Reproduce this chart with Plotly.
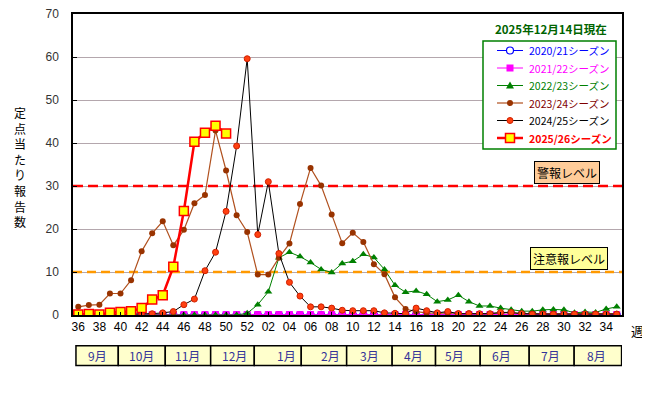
import plotly.graph_objects as go

# ---------------- data ----------------
weeks = [str(w) for w in range(36, 53)] + ["%02d" % w for w in range(1, 36)]

s2021 = [0.0] * 52
s2122 = [0.1] * 52
s2223 = [0.0] * 15 + [0.0, 0.4, 2.4, 5.4, 13.3, 14.6, 13.6, 12.2, 10.6, 9.9, 12.0, 12.5, 14.1,
                      13.4, 10.6, 6.9, 5.3, 5.6, 4.8, 3.1, 3.5, 4.6, 3.1, 2.1, 2.1, 1.6, 1.2,
                      0.9, 0.9, 1.2, 1.3, 1.2, 0.5, 0.7, 0.6, 1.4, 1.9]
s2324 = [1.9, 2.3, 2.4, 5.0, 5.0, 8.1, 14.8, 19.0, 21.8, 16.2, 19.8, 26.0, 27.9, 42.9,
         33.6, 23.2, 19.3, 9.4, 9.4, 13.3, 16.6, 25.8, 34.2, 30.1, 23.4, 16.7, 19.1, 17.0,
         11.8, 9.5, 4.1, 1.4, 0.8, 0.5, 0.4, 0.5, 0.4, 0.4, 0.3, 0.3, 0.5, 0.5, 0.3, 0.3,
         0.3, 0.3, 0.3, 0.2, 0.2, 0.3, 0.3, 0.3]
s2425 = [0.1, 0.1, 0.1, 0.2, 0.2, 0.2, 0.3, 0.3, 0.5, 0.8, 2.4, 3.7, 10.3, 14.6, 24.1,
         39.3, 59.6, 18.7, 31.0, 14.3, 7.6, 4.4, 1.9, 1.9, 1.6, 1.1, 1.0, 1.0, 1.0, 0.5,
         0.4, 0.3, 1.6, 1.0, 0.5, 0.8, 0.3, 0.3, 0.3, 0.3, 0.6, 0.6, 0.3, 0.2, 0.2, 0.2,
         0.2, 0.2, 0.2, 0.2, 0.2, 0.2]
s2526 = [0.1, 0.25, 0.1, 0.5, 0.7, 0.85, 1.6, 3.6, 4.6, 11.2, 24.2, 40.3, 42.4, 44.0, 42.2]

season_names = ["2020/21シーズン", "2021/22シーズン", "2022/23シーズン",
                "2023/24シーズン", "2024/25シーズン", "2025/26シーズン"]
alert_level = 30
caution_level = 10
months = ["9月", "10月", "11月", "12月", "1月", "2月", "3月", "4月", "5月", "6月", "7月", "8月"]
title_text = "2025年12月14日現在"

# ---------------- layout constants ----------------
W, H = 650, 393
ML, MR, MT, MB = 65, 36, 6, 86
PAGE_OFF = 8                      # default body margin of the html page
PL, PT = ML + PAGE_OFF, MT + PAGE_OFF
PW, PH = W - ML - MR, H - MT - MB

def px(xp):   # page pixel -> paper x
    return (xp - PL) / PW

def py(yp):   # page pixel -> paper y
    return 1 - (yp - PT) / PH

xs = list(range(len(weeks)))
xlo, xhi = -0.5, len(weeks) - 0.5
month_edges = [-0.22, 3.79, 8.24, 12.54, 16.67, 21.12, 25.42, 29.73, 33.84, 38.07, 42.71, 46.97, 51.46]
month_shift = [0, 0, 0, 0.15, 0.85, 0.6, 0, 0, -0.3, -0.3, -0.15, -0.1]
JP = "Noto Sans CJK JP"
NUM = "Liberation Sans, Arial, sans-serif"

styles = [
    dict(line=dict(color="#0000FF", width=1), text="#0000FF", bold=False,
         marker=dict(symbol="circle", size=7, color="white", line=dict(color="#0000FF", width=1.2))),
    dict(line=dict(color="#FF00FF", width=1), text="#FF00FF", bold=False,
         marker=dict(symbol="square", size=7, color="#FF00FF", line=dict(color="#FF00FF", width=0))),
    dict(line=dict(color="#008000", width=1), text="#008000", bold=False,
         marker=dict(symbol="triangle-up", size=7, color="#008000", line=dict(color="#008000", width=0))),
    dict(line=dict(color="#B0501E", width=1.2), text="#800000", bold=False,
         marker=dict(symbol="circle", size=6, color="#993300", line=dict(color="#993300", width=0))),
    dict(line=dict(color="#000000", width=1), text="#000000", bold=False,
         marker=dict(symbol="circle", size=6, color="#FF4010", line=dict(color="#D02000", width=1))),
    dict(line=dict(color="#FF0000", width=2.5), text="#FF0000", bold=True,
         marker=dict(symbol="square", size=9, color="#FFFF00", line=dict(color="#FF0000", width=1.5))),
]
series = [s2021, s2122, s2223, s2324, s2425, s2526]

fig = go.Figure()

# reference level lines (behind the series)
fig.add_trace(go.Scatter(x=[xlo, xhi], y=[alert_level] * 2, mode="lines", showlegend=False,
                         hoverinfo="skip", line=dict(color="#FF0000", width=2.5, dash="10px,5px")))
fig.add_trace(go.Scatter(x=[xlo, xhi], y=[caution_level] * 2, mode="lines", showlegend=False,
                         hoverinfo="skip", line=dict(color="#FF9900", width=2.5, dash="9px,5px")))

for name, vals, st in zip(season_names, series, styles):
    fig.add_trace(go.Scatter(x=xs[:len(vals)], y=vals, mode="lines+markers", name=name,
                             showlegend=False, line=st["line"], marker=st["marker"]))

shapes = []
annotations = []
for i, m in enumerate(months):
    shapes.append(dict(type="rect", xref="x", yref="paper",
                       x0=month_edges[i], x1=month_edges[i + 1], y0=-0.168, y1=-0.102,
                       fillcolor="#FFFFCC", line=dict(color="black", width=1.5), layer="above"))
    annotations.append(dict(x=(month_edges[i] + month_edges[i + 1]) / 2 + month_shift[i],
                            y=-0.135, xref="x", yref="paper", text=m, showarrow=False,
                            font=dict(family=JP, size=12, color="#333399"),
                            xanchor="center", yanchor="middle"))

# hand-made legend box (matches the original compact layout)
shapes.append(dict(type="rect", xref="paper", yref="paper", x0=px(483), x1=px(616),
                   y0=py(149), y1=py(41), fillcolor="white",
                   line=dict(color="#008000", width=1.5), layer="above"))
row0, step = 50.5, 17.5
for k, (name, st) in enumerate(zip(season_names, styles)):
    yc = py(row0 + k * step)
    shapes.append(dict(type="line", xref="paper", yref="paper", x0=px(497), x1=px(523),
                       y0=yc, y1=yc, line=dict(color=st["line"]["color"],
                                               width=st["line"]["width"]), layer="above"))
    mk = st["marker"]
    r = mk["size"] / 2
    common = dict(xref="paper", yref="paper", xsizemode="pixel", ysizemode="pixel",
                  xanchor=px(510), yanchor=yc, fillcolor=mk["color"],
                  line=dict(color=mk["line"]["color"], width=max(mk["line"]["width"], 0.01)),
                  layer="above")
    if mk["symbol"] == "circle":
        shapes.append(dict(type="circle", x0=-r, x1=r, y0=-r, y1=r, **common))
    elif mk["symbol"] == "square":
        shapes.append(dict(type="rect", x0=-r, x1=r, y0=-r, y1=r, **common))
    else:
        shapes.append(dict(type="path", path="M-4,-3 L4,-3 L0,4 Z", **common))
    txt = "<b>%s</b>" % name if st["bold"] else name
    annotations.append(dict(x=px(527), y=yc, xref="paper", yref="paper", text=txt,
                            showarrow=False, xanchor="left", yanchor="middle",
                            font=dict(family=JP, size=10.5, color=st["text"])))

annotations += [
    dict(x=46.3, y=33.1, xref="x", yref="y", text="警報レベル", showarrow=False,
         font=dict(family=JP, size=12, color="black"), bgcolor="#FFCC99",
         bordercolor="black", borderwidth=1, borderpad=2),
    dict(x=46.5, y=13.1, xref="x", yref="y", text="注意報レベル", showarrow=False,
         font=dict(family=JP, size=12, color="black"), bgcolor="#FFFF99",
         bordercolor="black", borderwidth=1, borderpad=2),
    dict(x=px(551), y=py(29), xref="paper", yref="paper", text="<b>" + title_text + "</b>",
         showarrow=False, font=dict(family=JP, size=11.5, color="#006400"),
         xanchor="center", yanchor="middle"),
    dict(x=px(20), y=py(167), xref="paper", yref="paper",
         text="<br>".join(list("定点当たり報告数")), showarrow=False,
         font=dict(family=JP, size=12, color="black"), xanchor="center", yanchor="middle"),
    dict(x=px(637), y=py(330), xref="paper", yref="paper", text="週", showarrow=False,
         font=dict(family=JP, size=13, color="black"), xanchor="center", yanchor="middle"),
]

fig.update_layout(
    width=W, height=H,
    margin=dict(l=ML, r=MR, t=MT, b=MB, autoexpand=False),
    paper_bgcolor="white", plot_bgcolor="white",
    font=dict(family=NUM, size=12, color="black"),
    showlegend=False,
    shapes=shapes, annotations=annotations,
    xaxis=dict(range=[xlo, xhi], tickmode="array",
               tickvals=xs[::2], ticktext=weeks[::2], showgrid=False, zeroline=False,
               showline=True, linecolor="black", linewidth=1.5, mirror=True,
               ticks="inside", ticklen=3, tickcolor="black", automargin=False,
               tickfont=dict(family=NUM, size=12, color="black")),
    yaxis=dict(range=[0, 70], dtick=10, showgrid=True, gridcolor="#B4A7AD", gridwidth=1,
               zeroline=False, showline=True, linecolor="black", linewidth=1.5, mirror=True,
               ticks="inside", ticklen=4, tickcolor="black", ticklabelstandoff=10,
               ticklabeloverflow="allow", automargin=False,
               tickfont=dict(family=NUM, size=12, color="#333333")),
)

fig.write_html("out.html")
